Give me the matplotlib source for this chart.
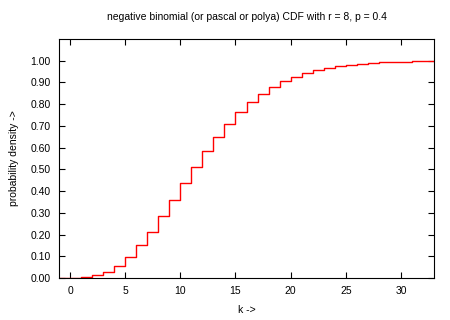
import numpy as np
import matplotlib
matplotlib.use("Agg")
import matplotlib.pyplot as plt

plt.rcParams['font.family'] = ['Liberation Sans', 'DejaVu Sans']

# negative binomial CDF values, r = 8, p = 0.4
k = list(range(-1, 34))
cdf = [0.0, 0.0007, 0.0038, 0.0123, 0.0293, 0.0573, 0.0977, 0.1501, 0.2131,
       0.2839, 0.3595, 0.4366, 0.5122, 0.5841, 0.6505, 0.7102, 0.7627,
       0.8081, 0.8465, 0.8785, 0.9047, 0.9260, 0.9430, 0.9565, 0.9670,
       0.9752, 0.9815, 0.9863, 0.9899, 0.9926, 0.9946, 0.9961, 0.9972,
       0.9980, 0.9986]
xticks = [0, 5, 10, 15, 20, 25, 30]
yticks = [0.0, 0.1, 0.2, 0.3, 0.4, 0.5, 0.6, 0.7, 0.8, 0.9, 1.0]

fig = plt.figure(figsize=(4.5, 3.2), dpi=100)
ax = fig.add_axes([59/450, 42/320, 375/450, 239/320])

ax.step(k, cdf, where='post', color='red', lw=1)

ax.set_xlim(-1, 33)
ax.set_ylim(0, 1.1)
ax.set_xticks(xticks)
ax.set_yticks(yticks)
ax.set_yticklabels(['%.2f' % v for v in yticks])
ax.tick_params(direction='in', length=4, width=0.8, top=True, right=True,
               labelsize=7.5, pad=6)
for s in ax.spines.values():
    s.set_linewidth(0.8)

ax.set_title('negative binomial (or pascal or polya) CDF with r = 8, p = 0.4',
             fontsize=7.5, pad=14)
ax.set_xlabel('k ->', fontsize=7.5, labelpad=6)
ax.set_ylabel('probability density ->', fontsize=7.5, labelpad=8)

fig.savefig('out.png', dpi=100)
